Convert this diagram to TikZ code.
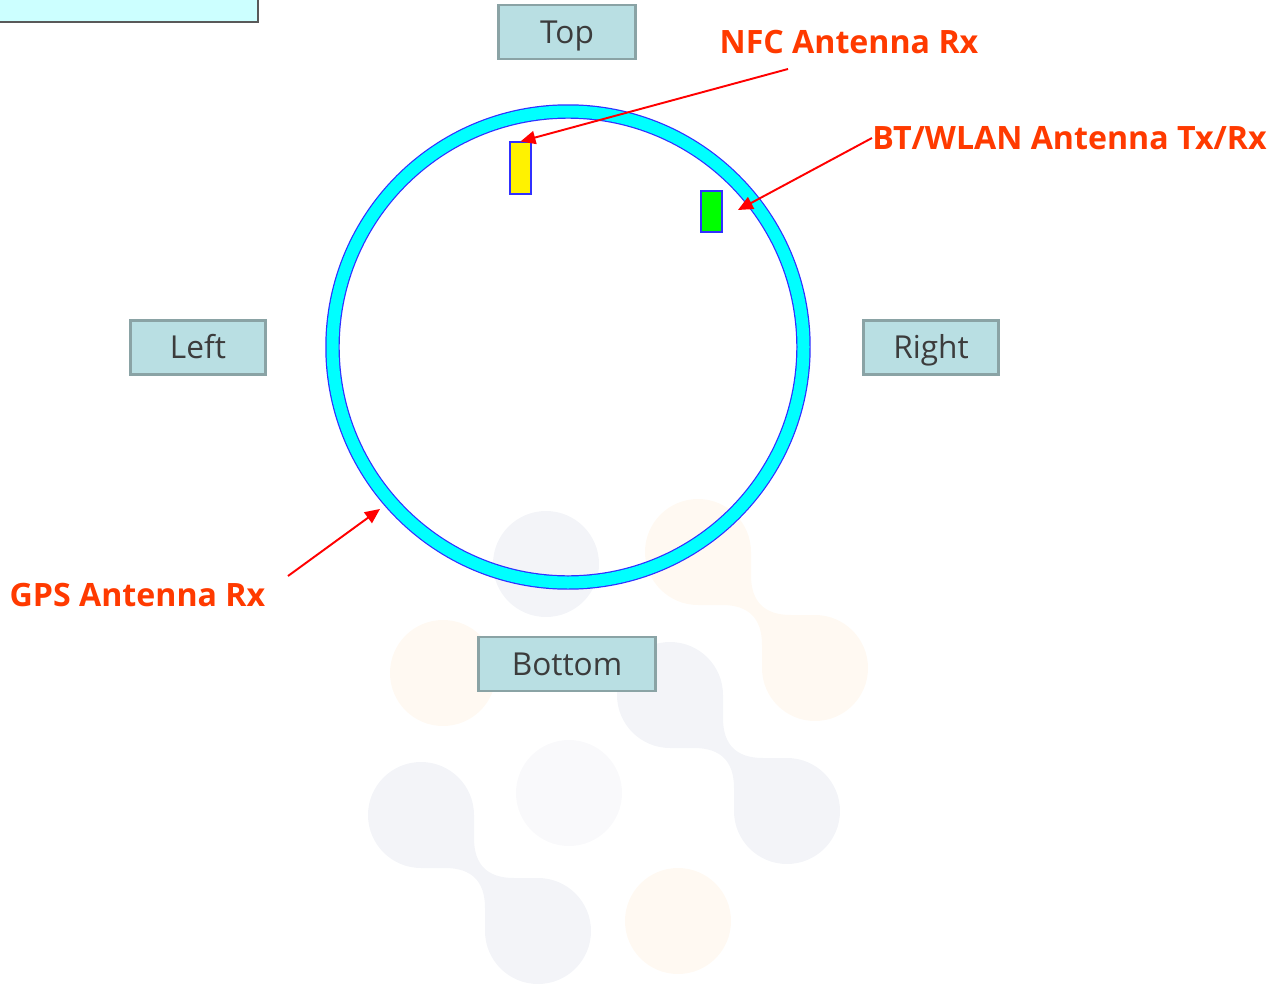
\documentclass[tikz,border=0pt]{standalone}
\usepackage{fontspec}
\setmainfont{Open Sans}
\usetikzlibrary{arrows.meta}

\definecolor{boxfill}{HTML}{B9DFE3}
\definecolor{boxline}{HTML}{8AA3A5}
\definecolor{boxtext}{HTML}{3C3C3C}
\definecolor{labelred}{HTML}{FF3A00}
\definecolor{notefill}{HTML}{CCFFFF}
\definecolor{ringblue}{HTML}{3030FF}
\definecolor{ringcyan}{RGB}{0,255,255}
\definecolor{markgray}{HTML}{F3F4F8}
\definecolor{markpale}{HTML}{F9F9FB}
\definecolor{markorange}{HTML}{FFF9F2}

\tikzset{
  side/.style={draw=boxline, fill=boxfill, line width=1.7pt, text=boxtext,
    font=\fontsize{18}{21}\selectfont, inner sep=0pt,
    text height=12.8pt, text depth=0pt,
    minimum height=54*0.02cm, minimum width=137*0.02cm},
  antenna/.style={text=labelred, inner sep=0pt,
    text height=13pt, text depth=0pt,
    font=\bfseries\fontsize{18.3}{22}\selectfont},
  chip/.style={draw=ringblue, line width=0.6pt, inner sep=0pt,
    minimum width=21*0.02cm},
  pointer/.style={red, line width=1.1pt, -{Triangle[length=8.5pt,width=7.5pt]}},
}

% watermark dots
\newcommand{\markdot}[3]{\fill[#3] (#1,#2) circle (53);}
\newcommand{\markpair}[3]{%
  \fill[#3] (#1,#2) circle (53);
  \fill[#3] ([shift={(117,116)}]#1,#2) circle (53);
  \fill[#3, shift={(#1,#2)}] (0,0) -- (53,0) -- (53,23)
    .. controls (53,49.7) and (66.3,63) .. (93,63)
    -- (117,63) -- (117,116) -- (64,116) -- (64,93)
    .. controls (64,66.3) and (50.7,53) .. (24,53)
    -- (0,53) -- cycle;}

\begin{document}
\begin{tikzpicture}[x=0.02cm, y=-0.02cm]
    \useasboundingbox (0,0) rectangle (1286,984);

    % faint background marks
    \markpair{698}{552}{markorange}
    \markpair{670}{695}{markgray}
    \markpair{421}{815}{markgray}
    \markdot{546}{564}{markgray}
    \markdot{443}{673}{markorange}
    \markdot{569}{793}{markpale}
    \markdot{678}{921}{markorange}

    % cut-off box in the corner
    \draw[fill=notefill, draw=black!65, line width=1pt] (-10,-10) rectangle (258,22);

    % ring
    \node[circle, draw=ringblue, line width=0.7pt, double=ringcyan, double distance=12*0.02cm,
      inner sep=0pt, minimum size=471*0.02cm] (ring) at (568,347) {};

    % sides
    \node[side] (top) at (567,32) {Top};
    \node[side, minimum width=135*0.02cm] (left) at (198,347.5) {Left};
    \node[side, minimum width=135*0.02cm] (right) at (931,347.5) {Right};
    \node[side, minimum width=177*0.02cm] (bottom) at (567,664) {Bottom};

    % antennas
    \node[chip, fill=yellow, minimum height=52*0.02cm] (nfc) at (520.5,168) {};
    \node[chip, fill=green, minimum height=41*0.02cm] (bt) at (711.5,211.5) {};

    % labels
    \node[antenna] (nfclabel) at (849,42) {NFC Antenna Rx};
    \node[antenna, anchor=west] (btlabel) at (872,138) {BT/WLAN Antenna Tx/Rx};
    \node[antenna] (gpslabel) at (137.5,595) {GPS Antenna Rx};

    \coordinate (nfcstart) at (788,69);
    \coordinate (bttip) at (738,210);
    \coordinate (gpsstart) at (288,576);
    \coordinate (gpstip) at (380,509);

    \draw[pointer] (nfcstart) -- (nfc.north);
    \draw[pointer] (btlabel.west) -- (bttip);
    \draw[pointer] (gpsstart) -- (gpstip);
\end{tikzpicture}
\end{document}
